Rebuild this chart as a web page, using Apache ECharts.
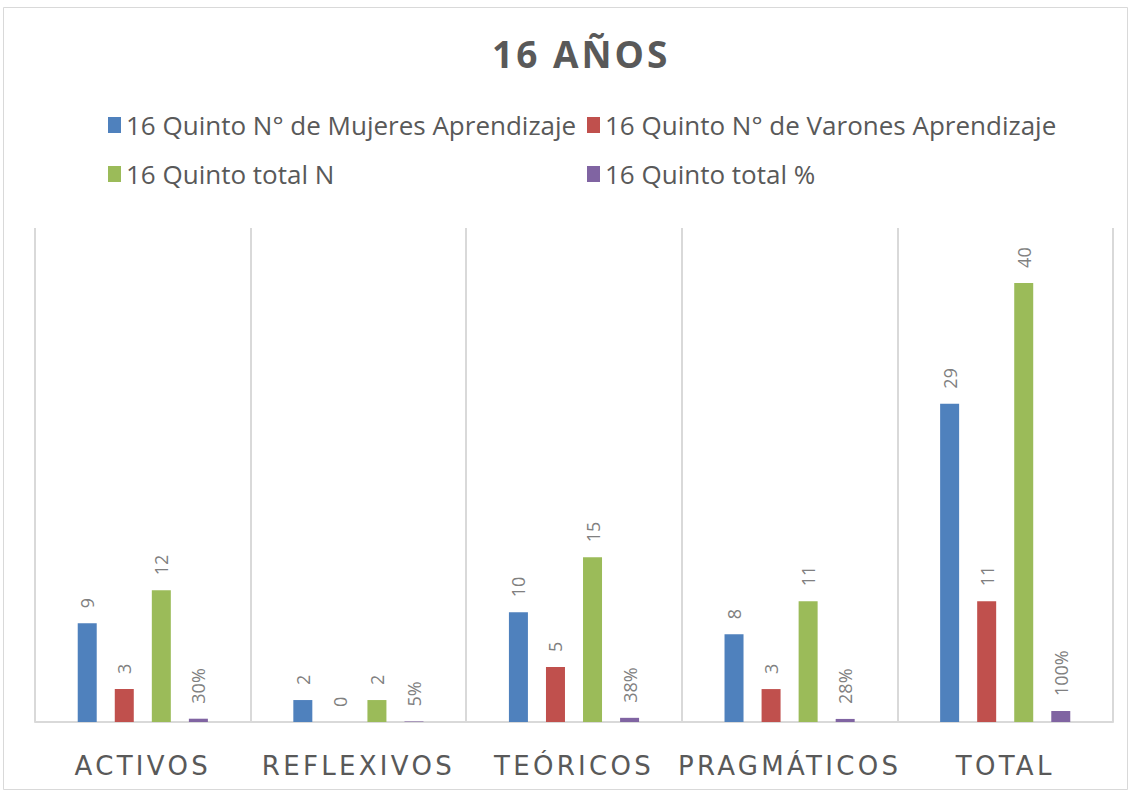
<!DOCTYPE html>
<html>
<head>
<meta charset="utf-8">
<script src="https://cdn.jsdelivr.net/npm/echarts@6/dist/echarts.min.js"></script>
<style>
  html, body { margin: 0; padding: 0; background: #fff; }
  #chart { width: 1133px; height: 796px; }
  /* spaced caps like the original for title and category names */
  #chart svg text[style*="DejaVu"] { letter-spacing: 3.3px; }
  #chart svg text[style*="bold"] { letter-spacing: 3px; }
</style>
</head>
<body>
<div id="chart"></div>
<script>
var categories = ['ACTIVOS', 'REFLEXIVOS', 'TEÓRICOS', 'PRAGMÁTICOS', 'TOTAL'];
var seriesNames = [
  '16 Quinto N° de Mujeres Aprendizaje',
  '16 Quinto N° de Varones Aprendizaje',
  '16 Quinto total N',
  '16 Quinto total %'
];
var mujeres = [9, 2, 10, 8, 29];
var varones = [3, 0, 5, 3, 11];
var totalN = [12, 2, 15, 11, 40];
var totalPct = [0.30, 0.05, 0.38, 0.28, 1.00];
var colors = ['#4f81bd', '#c0504d', '#9bbb59', '#8064a2'];

var chartDom = document.getElementById('chart');
var myChart = echarts.init(chartDom, null, { renderer: 'svg' });

function barSeries(name, data, color, isPct) {
  return {
    name: name,
    type: 'bar',
    data: data,
    barWidth: 19,
    barGap: '95%',
    itemStyle: { color: color },
    label: {
      show: true,
      position: 'top',
      rotate: 90,
      align: 'left',
      verticalAlign: 'middle',
      distance: 15,
      color: '#808080',
      fontFamily: 'Open Sans',
      fontSize: 18,
      formatter: function (p) {
        return isPct ? Math.round(p.value * 100) + '%' : p.value;
      }
    }
  };
}

var legendText = { color: '#595959', fontSize: 26, fontFamily: 'Open Sans' };

var option = {
  animation: false,
  backgroundColor: '#fff',
  title: {
    text: '16 AÑOS',
    left: 487,
    top: 30,
    textStyle: { color: '#595959', fontSize: 37, fontWeight: 'bold', fontFamily: 'Open Sans' }
  },
  legend: [
    {
      data: [seriesNames[0], seriesNames[2]],
      orient: 'vertical',
      left: 103,
      top: 107,
      itemWidth: 13,
      itemHeight: 16,
      itemGap: 23,
      icon: 'rect',
      textStyle: legendText
    },
    {
      data: [seriesNames[1], seriesNames[3]],
      orient: 'vertical',
      left: 582,
      top: 107,
      itemWidth: 13,
      itemHeight: 16,
      itemGap: 23,
      icon: 'rect',
      textStyle: legendText
    }
  ],
  grid: { left: 35, right: 20, top: 228, bottom: 74, containLabel: false },
  xAxis: {
    type: 'category',
    data: categories,
    axisLine: { lineStyle: { color: '#d9d9d9', width: 2 } },
    axisTick: { show: false },
    splitLine: { show: true, interval: 0, lineStyle: { color: '#d9d9d9', width: 2 } },
    axisLabel: { interval: 0, color: '#595959', fontSize: 26, fontFamily: 'DejaVu Sans', margin: 31 }
  },
  yAxis: {
    type: 'value',
    min: 0,
    max: 45,
    show: false
  },
  series: [
    barSeries(seriesNames[0], mujeres, colors[0], false),
    barSeries(seriesNames[1], varones, colors[1], false),
    barSeries(seriesNames[2], totalN, colors[2], false),
    barSeries(seriesNames[3], totalPct, colors[3], true)
  ],
  graphic: [
    {
      type: 'rect',
      shape: { x: 3.5, y: 7.5, width: 1124, height: 782 },
      style: { fill: 'none', stroke: '#d9d9d9', lineWidth: 1 },
      silent: true
    }
  ]
};

option && myChart.setOption(option);
window.addEventListener('resize', () => {
  myChart.resize();
});
</script>
</body>
</html>
